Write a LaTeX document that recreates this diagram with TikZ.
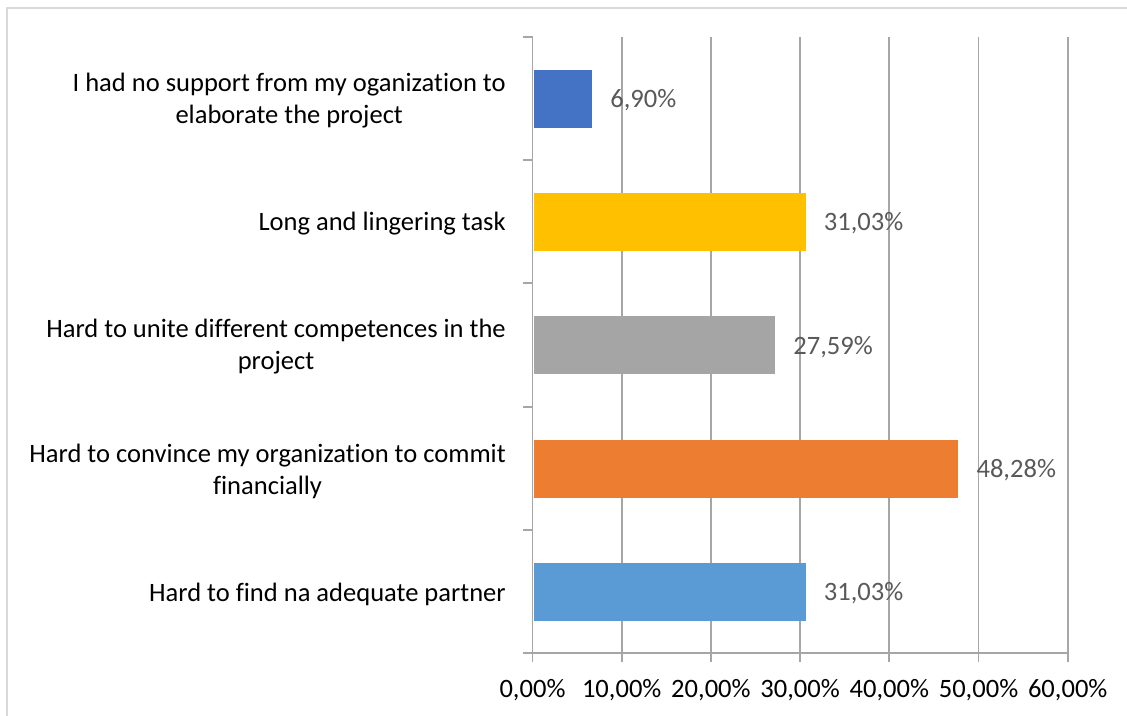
\documentclass[tikz,border=0pt]{standalone}
\usepackage{fontspec}
\setmainfont{Carlito}[Ligatures=NoCommon]
\definecolor{cBlue}{HTML}{4472C4}
\definecolor{cYellow}{HTML}{FFC000}
\definecolor{cGray}{HTML}{A5A5A5}
\definecolor{cOrange}{HTML}{ED7D31}
\definecolor{cLightBlue}{HTML}{5B9BD5}
\definecolor{gridc}{HTML}{A6A6A6}
\definecolor{framec}{HTML}{D9D9D9}
\definecolor{lblc}{HTML}{595959}
\tikzset{
  txt/.style={font=\fontsize{19.9}{24}\selectfont, inner sep=0pt},
  catlbl/.style={txt, anchor=east, align=center, text=black},
  vallbl/.style={txt, anchor=west, text=lblc},
  ticklbl/.style={txt, anchor=center, text=black},
  gridl/.style={draw=gridc, line width=1.4pt},
}
\begin{document}
\begin{tikzpicture}[x=0.75pt,y=-0.75pt]
\useasboundingbox (0,0) rectangle (1127,716);
\fill[white] (0,0) rectangle (1127,716);
% frame
\draw[framec, line width=1.5pt] (7,730) -- (7,8) -- (1140,8);
% gridlines and x ticks
\foreach \i in {1,...,6} {
  \draw[gridl] ({532.5+89.2*\i},37) -- ({532.5+89.2*\i},662);
}
% vertical axis + ticks
\draw[gridl] (532.5,37) -- (532.5,662);
\foreach \j in {0,...,5} {
  \draw[gridl] (523,{37+123.2*\j}) -- (532.5,{37+123.2*\j});
}
% horizontal axis
\draw[gridl] (523,653) -- ({532.5+89.2*6},653);
% bars
\def\sc{8.85}
\fill[cBlue]      (534,70)  rectangle ({531+\sc*6.90},128);
\fill[cYellow]    (534,193) rectangle ({531+\sc*31.03},251);
\fill[cGray]      (534,316) rectangle ({531+\sc*27.59},374);
\fill[cOrange]    (534,440) rectangle ({531+\sc*48.28},498);
\fill[cLightBlue] (534,563) rectangle ({531+\sc*31.03},621);
% bar anchors
\coordinate (b1) at ({531+\sc*6.90},100);
\coordinate (b2) at ({531+\sc*31.03},223);
\coordinate (b3) at ({531+\sc*27.59},347);
\coordinate (b4) at ({531+\sc*48.28},470);
\coordinate (b5) at ({531+\sc*31.03},593);
% value labels
\node[vallbl] (v1) at ([xshift=13.5pt]b1) {6,90\%};
\node[vallbl] (v2) at ([xshift=13.5pt]b2) {31,03\%};
\node[vallbl] (v3) at ([xshift=13.5pt]b3) {27,59\%};
\node[vallbl] (v4) at ([xshift=13.5pt]b4) {48,28\%};
\node[vallbl] (v5) at ([xshift=13.5pt]b5) {31,03\%};
% category labels
\node[catlbl] (c1) at (506,101) {I had no support from my oganization to\\elaborate the project};
\node[catlbl] (c2) at (506,224) {Long and lingering task};
\node[catlbl] (c3) at (506,347) {Hard to unite different competences in the\\project};
\node[catlbl] (c4) at (506,471) {Hard to convince my organization to commit\\financially};
\node[catlbl] (c5) at (506,594) {Hard to find na adequate partner};
% tick labels
\foreach \i/\t in {0/0,1/10,2/20,3/30,4/40,5/50,6/60} {
  \node[ticklbl] (t\i) at ({532.5+89.2*\i},690) {\t,00\%};
}
\end{tikzpicture}
\end{document}
